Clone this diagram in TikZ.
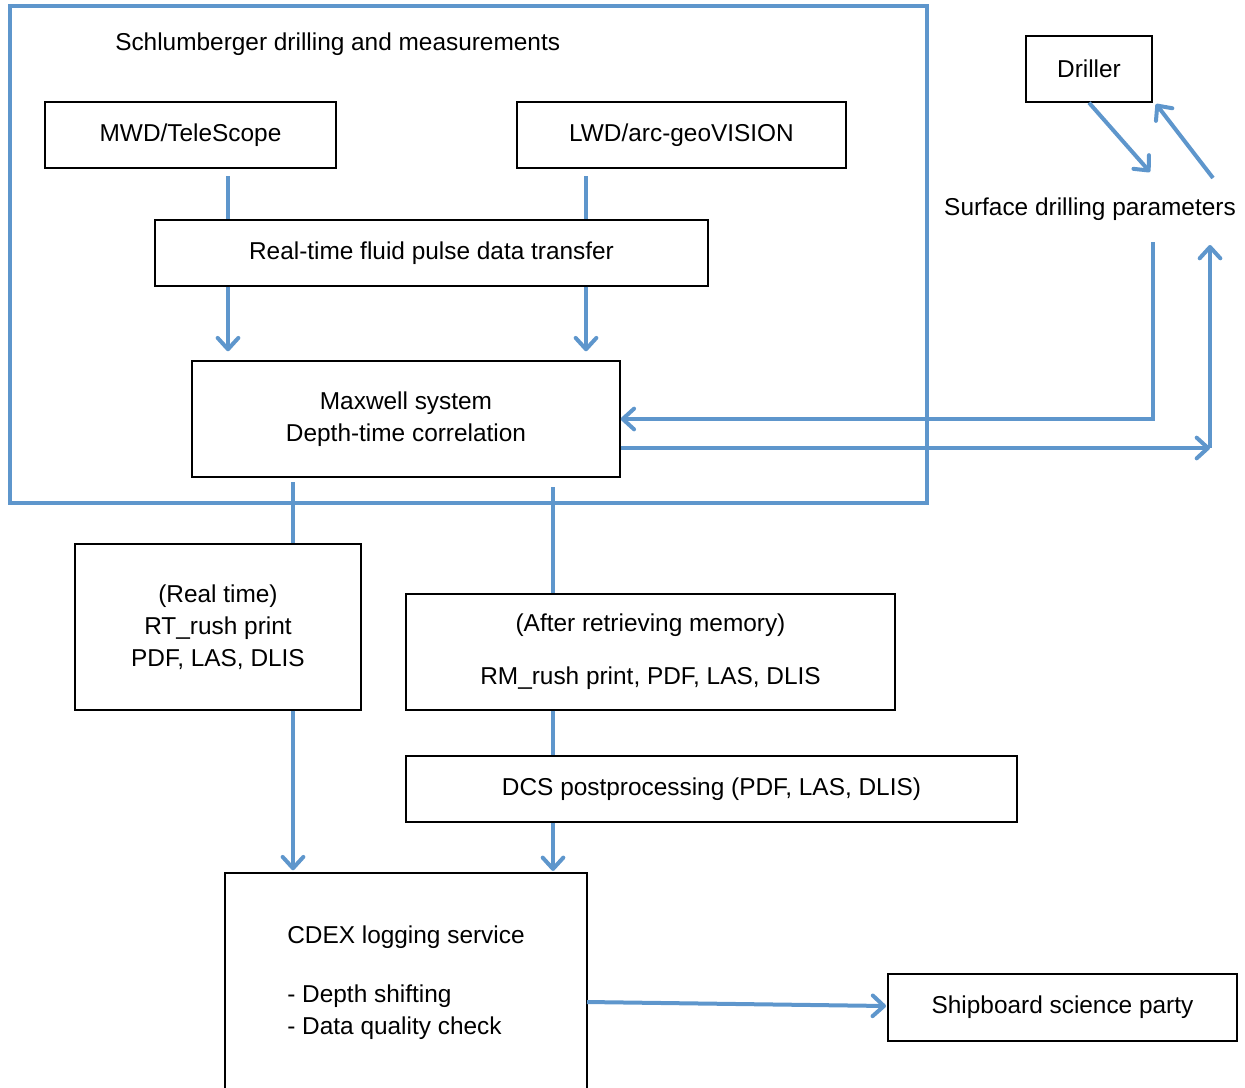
\documentclass[tikz,border=0pt]{standalone}
\usepackage{fontspec}
\setmainfont{Liberation Sans}
\usetikzlibrary{arrows.meta}
\definecolor{flowblue}{RGB}{94,150,204}
\begin{document}
\begin{tikzpicture}[x=0.75pt,y=-0.75pt,
  every node/.style={font=\fontsize{18.3}{24}\selectfont, inner sep=0pt},
  box/.style={draw=black, line width=1.1pt, align=center, minimum height=49.5pt},
  flow/.style={draw=flowblue, line width=3pt},
  flowarr/.style={flow, -{Straight Barb[length=8.5pt,width=15.5pt,round,line width=3pt]}},
]
\useasboundingbox (0,0) rectangle (1245,1088);
\clip (0,0) rectangle (1245,1088);

% outer frame
\draw[flowblue, line width=3pt] (10,6) rectangle (927,503);
\node[anchor=west] (title) at (115,44) {Schlumberger drilling and measurements};

\node[box, minimum width=218.25pt] (mwd) at (190.5,135) {MWD/TeleScope};
\node[box, minimum width=246.75pt] (lwd) at (681.5,135) {LWD/arc-geoVISION};
\node[box, minimum width=414.75pt] (rtf) at (431.5,253) {Real-time fluid pulse data transfer};
\node[box, minimum width=321pt, minimum height=87pt] (mx) at (406,419) {Maxwell system\\Depth-time correlation};

\node[box, minimum width=94.5pt] (drl) at (1089,69) {Driller};
\node (surf) at (1090,209) {Surface drilling parameters};

\node[box, minimum width=214.5pt, minimum height=124.5pt] (rt) at (218,627) {(Real time)\\RT\_rush print\\PDF, LAS, DLIS};
\node[box, minimum width=366.75pt, minimum height=87pt] (rm) at (650.5,652) {(After retrieving memory)\\[16pt]RM\_rush print, PDF, LAS, DLIS};
\node[box, minimum width=458.25pt] (dcs) at (711.5,789) {DCS postprocessing (PDF, LAS, DLIS)};
\node[box, minimum width=271.5pt, minimum height=165pt, align=left] (cdex) at (406,983) {CDEX logging service\\[20pt]- Depth shifting\\- Data quality check};
\node[box, minimum width=261.75pt, minimum height=50.25pt] (ship) at (1062.5,1007.5) {Shipboard science party};

% coordinates
\coordinate (a1) at (228,176);
\coordinate (a2) at (586,176);
\coordinate (s1) at (1153,242);
\coordinate (r1) at (1210,448);
\coordinate (r2) at (1210,245);
\coordinate (d1) at (1150,172);
\coordinate (d2) at (1213,178);
\coordinate (d3) at (1156,104);
\coordinate (m1) at (293,482);
\coordinate (m2) at (553,487);
\coordinate (c1) at (587,1002);
\coordinate (c2) at (886,1006);

% connectors
\draw[flow] (a1) -- (a1 |- rtf.north);
\draw[flow] (a2) -- (a2 |- rtf.north);
\draw[flowarr, shorten >=6.75pt] (a1 |- rtf.south) -- (a1 |- mx.north);
\draw[flowarr, shorten >=6.75pt] (a2 |- rtf.south) -- (a2 |- mx.north);

\draw[flowarr] (s1) |- (mx.east);
\draw[flowarr] (mx.east |- r1) -- (r1);
\draw[flowarr] (r1) -- (r2);

\draw[flowarr] (drl.south) -- (d1);
\draw[flowarr] (d2) -- (d3);

\draw[flow] (m1) -- (m1 |- rt.north);
\draw[flow] (m2) -- (m2 |- rm.north);
\draw[flow] (m2 |- rm.south) -- (m2 |- dcs.north);
\draw[flowarr, shorten >=1pt] (m2 |- dcs.south) -- (m2 |- cdex.north);
\draw[flowarr, shorten >=1.5pt] (m1 |- rt.south) -- (m1 |- cdex.north);
\draw[flowarr] (c1) -- (c2);
\end{tikzpicture}
\end{document}
